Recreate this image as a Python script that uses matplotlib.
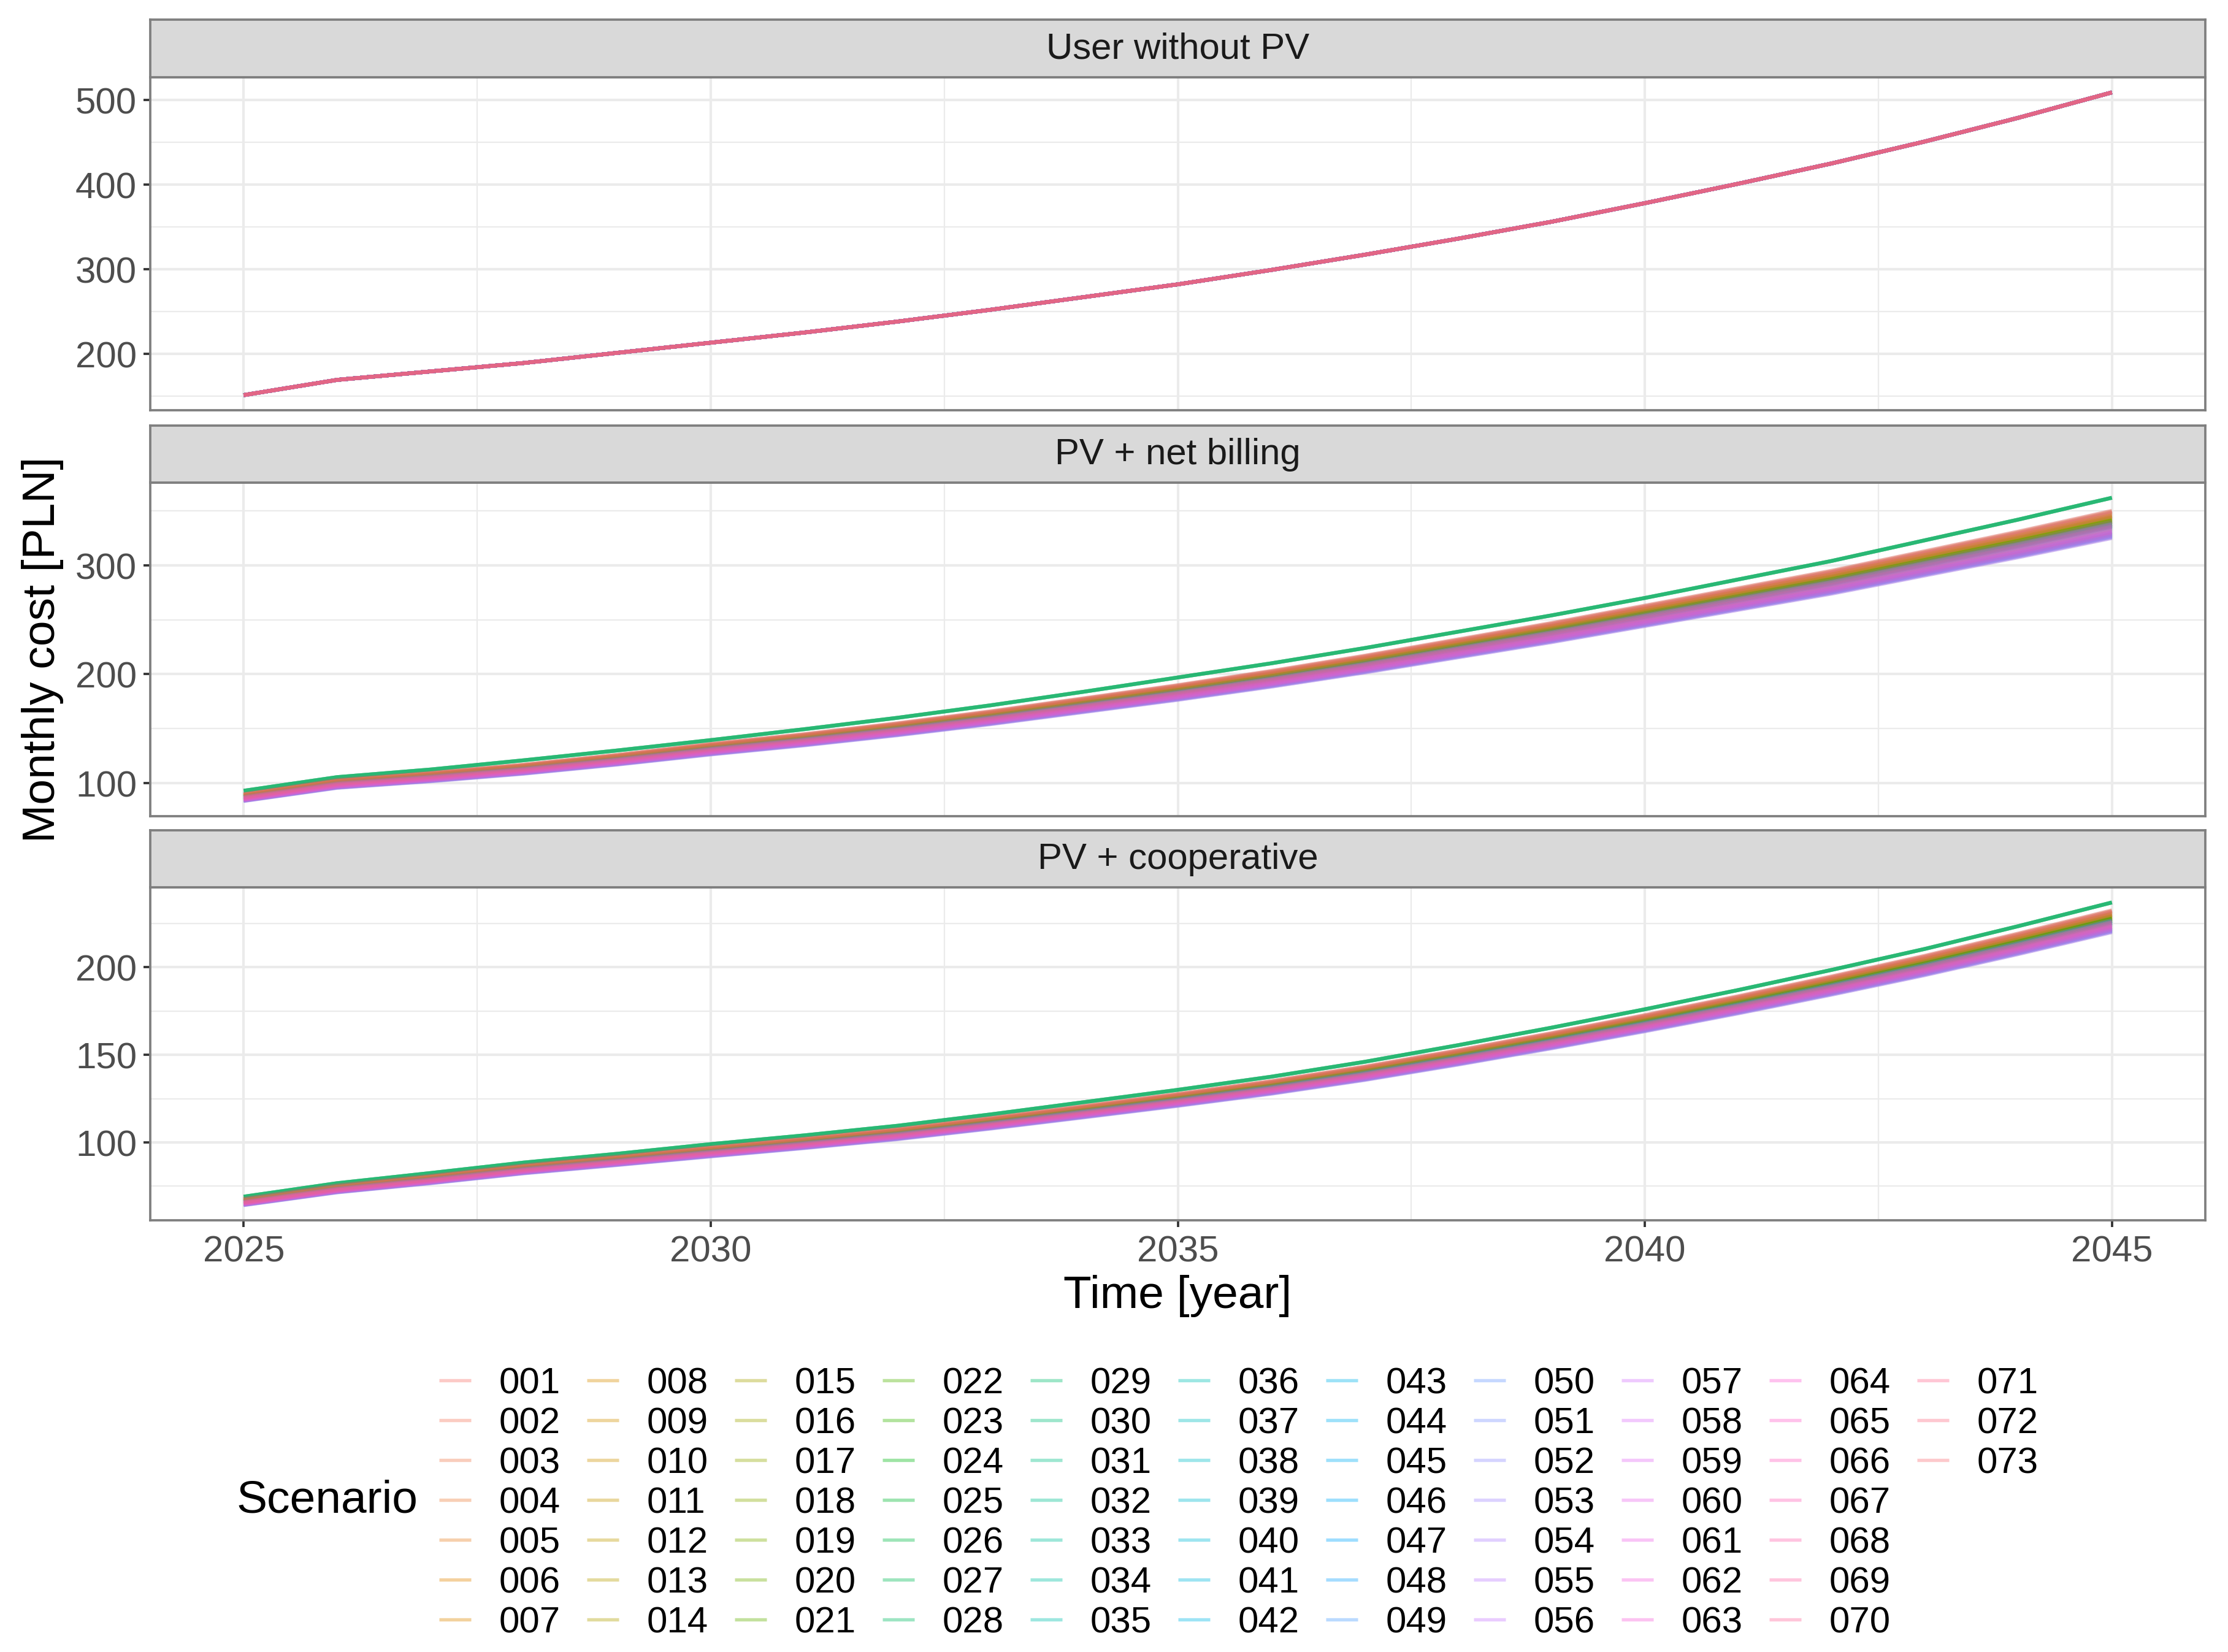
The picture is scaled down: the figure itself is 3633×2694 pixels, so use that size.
import numpy as np
import matplotlib
matplotlib.use("Agg")
import matplotlib.pyplot as plt
from matplotlib.lines import Line2D

plt.rcParams['font.family'] = ['Liberation Sans', 'DejaVu Sans']

# ---- data ----
years = list(range(2025, 2046))
scenarios = [f"{i:03d}" for i in range(1, 74)]

# user without PV: every scenario lies on the same curve
no_pv = [151, 169, 179, 189, 201, 213, 225, 238, 252, 267, 282,
         299, 317, 336, 356, 378, 401, 425, 451, 479, 509]

# PV + net billing: upper edge of the main bundle and the green outlier
netbill_top = [90, 103, 109.5, 117, 126, 136, 145, 155, 166, 178, 190,
               203, 217, 232, 247, 263, 279, 295, 313, 331, 350]
netbill_green = [93, 105.5, 112.5, 121, 130, 139.5, 149.5, 160, 171.5, 184, 197,
                 210, 224, 239, 254, 270, 287, 304, 323, 342, 362]
# level reached in 2045 by each scenario
netbill_end = [349, 350, 348, 347, 349, 346, 345,
               346, 344, 345, 343, 344, 342, 341,
               343, 341, 340, 342, 339, 340, 338,
               341, 339, 340, 362, 362, 362, 362,
               362, 338, 337, 338, 336, 337, 335,
               338, 336, 337, 335, 334, 336, 333,
               331, 329, 330, 328, 327, 329, 326,
               327, 326, 328, 325, 326, 327, 325,
               332, 330, 331, 329, 330, 328, 331,
               335, 333, 334, 336, 337, 338, 340,
               345, 348, 350]

# PV + cooperative
coop_top = [67.8, 75.5, 81, 87, 92, 97.2, 102.2, 107.6, 114, 120.8, 127.7,
            135, 143.3, 152.6, 162.4, 172.7, 183.5, 194.8, 206.6, 219.3, 232.5]
coop_green = [69, 76.7, 82.5, 88.5, 93.5, 99, 104, 109.5, 116, 123, 130,
              137.5, 146, 155.5, 165.5, 176, 187, 198.5, 210.5, 223.5, 237]
coop_end = [232, 232.5, 231.5, 231, 232, 230.5, 230,
            230.5, 229.5, 230, 229, 229.5, 228.5, 228,
            229, 228, 227.5, 228.5, 227, 227.5, 226.5,
            228, 227, 227.5, 237, 237, 237, 237,
            237, 226.5, 226, 226.5, 225.5, 226, 225,
            226.5, 225.5, 226, 225, 224.5, 225.5, 224,
            223, 222, 222.5, 221.5, 221, 222, 220.5,
            221, 220.5, 221.5, 220, 220.5, 221, 220,
            223.5, 222.5, 223, 222, 222.5, 221.5, 223,
            224.5, 223.5, 224, 225, 225.5, 226, 227,
            230, 231.5, 232.5]

green_ids = ["025", "026", "027", "028", "029"]

panel_titles = ["User without PV", "PV + net billing", "PV + cooperative"]


def hue_colour(h, c=100.0, l=65.0):
    # polar LUV -> sRGB, same as R's hcl()
    xn, yn, zn = 95.047, 100.0, 108.883
    un = 4 * xn / (xn + 15 * yn + 3 * zn)
    vn = 9 * yn / (xn + 15 * yn + 3 * zn)
    u = c * np.cos(np.radians(h))
    v = c * np.sin(np.radians(h))
    y = yn * ((l + 16) / 116) ** 3
    up = u / (13 * l) + un
    vp = v / (13 * l) + vn
    x = 9 * y * up / (4 * vp)
    z = -x / 3 - 5 * y + 3 * y / vp
    x, y, z = x / 100, y / 100, z / 100
    rgb = [3.240479 * x - 1.537150 * y - 0.498535 * z,
           -0.969256 * x + 1.875992 * y + 0.041556 * z,
           0.055648 * x - 0.204043 * y + 1.057311 * z]
    out = []
    for ch in rgb:
        ch = 12.92 * ch if ch <= 0.0031308 else 1.055 * ch ** (1 / 2.4) - 0.055
        out.append(min(max(ch, 0), 1))
    return tuple(out)


hues = np.linspace(15, 375, len(scenarios) + 1)[:-1] % 360
key_colours = [hue_colour(h) for h in hues]
# the overlapping lines come out a little duller than the legend keys
line_colours = [hue_colour(h, c=85, l=60) for h in hues]


def scenario_series(top, green, ends):
    series = []
    for sid, end in zip(scenarios, ends):
        base = np.array(green if sid in green_ids else top, dtype=float)
        series.append(base * end / base[-1])
    return series


panel_data = [
    [np.array(no_pv, dtype=float) for _ in scenarios],
    scenario_series(netbill_top, netbill_green, netbill_end),
    scenario_series(coop_top, coop_green, coop_end),
]
major_y = [[200, 300, 400, 500], [100, 200, 300], [100, 150, 200]]
minor_y = [[150, 250, 350, 450], [150, 250, 350], [75, 125, 175, 225]]

# ---- layout in pixels ----
W, H, DPI = 3633, 2695, 300
fig = plt.figure(figsize=(W / DPI, H / DPI), dpi=DPI)


def box(x0, y0, x1, y1):
    return [x0 / W, 1 - y1 / H, (x1 - x0) / W, (y1 - y0) / H]


PL, PR = 245, 3596
strips = [(33, 127), (695, 788), (1355, 1448)]
panels = [(127, 670), (788, 1332), (1448, 1991)]
border = '#7F7F7F'
alpha = 0.3
lw = 1.5

for k in range(3):
    ax = fig.add_axes(box(PL, panels[k][0], PR, panels[k][1]))
    for sid, col, ys in zip(scenarios, line_colours, panel_data[k]):
        ax.plot(years, ys, color=col, alpha=alpha, lw=lw, solid_capstyle='butt')
    allv = np.concatenate(panel_data[k])
    lo, hi = allv.min(), allv.max()
    ax.set_ylim(lo - 0.05 * (hi - lo), hi + 0.05 * (hi - lo))
    ax.set_xlim(2024, 2046)
    ax.set_yticks(major_y[k])
    ax.set_yticks(minor_y[k], minor=True)
    ax.set_xticks([2025, 2030, 2035, 2040, 2045])
    ax.set_xticks([2027.5, 2032.5, 2037.5, 2042.5], minor=True)
    ax.grid(which='major', color='#EBEBEB', lw=1.0)
    ax.grid(which='minor', color='#EBEBEB', lw=0.55)
    ax.set_axisbelow(True)
    ax.tick_params(which='minor', length=0)
    ax.tick_params(axis='y', which='major', length=2.75, width=0.9, color='#333333',
                   labelsize=14.4, labelcolor='#4D4D4D', pad=2.5)
    if k == 2:
        ax.tick_params(axis='x', which='major', length=2.75, width=0.9, color='#333333',
                       labelsize=14.4, labelcolor='#4D4D4D', pad=3.0)
    else:
        ax.tick_params(axis='x', which='major', length=0, labelbottom=False)
    for sp in ax.spines.values():
        sp.set_color(border)
        sp.set_linewidth(0.9)

    sax = fig.add_axes(box(PL, strips[k][0], PR, strips[k][1]))
    sax.set_facecolor('#D9D9D9')
    sax.set_xticks([])
    sax.set_yticks([])
    for sp in sax.spines.values():
        sp.set_color(border)
        sp.set_linewidth(0.9)
    sax.text(0.5, 0.5, panel_titles[k], ha='center', va='center',
             fontsize=14.4, color='#1A1A1A', transform=sax.transAxes)

# axis titles
fig.text(1920 / W, 1 - 2113 / H, "Time [year]", ha='center', va='center', fontsize=18)
fig.text(70 / W, 1 - 1059 / H, "Monthly cost [PLN]", ha='center', va='center',
         rotation=90, fontsize=18)

# legend, filled column by column like ggplot
fig.text(386 / W, 1 - 2447 / H, "Scenario", ha='left', va='center', fontsize=18)
row_y = [2252, 2317, 2382, 2447, 2512, 2577, 2642]
for i, (sid, col) in enumerate(zip(scenarios, key_colours)):
    c, r = divmod(i, 7)
    yk = 1 - row_y[r] / H
    x0 = 716 + 241 * c
    fig.add_artist(Line2D([x0 / W, (x0 + 52) / W], [yk, yk], transform=fig.transFigure,
                          color=col, alpha=0.38, lw=1.3, solid_capstyle='butt'))
    fig.text((814 + 241 * c) / W, 1 - (row_y[r] + 21) / H, sid, ha='left',
             va='baseline', fontsize=14.4)

fig.savefig("out.png", dpi=DPI)
